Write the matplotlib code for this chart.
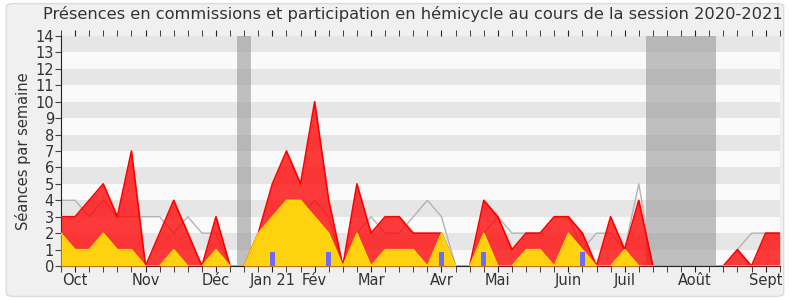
import matplotlib
matplotlib.use("Agg")
import matplotlib.pyplot as plt
from matplotlib.patches import FancyBboxPatch
import numpy as np

# weekly values, session 2020-2021 (52 weeks)
commission_total = [3, 3, 4, 5, 3, 7, 0, 2, 4, 2, 0, 3, 0, 0, 2, 5, 7, 5, 10, 4,
                    0, 5, 2, 3, 3, 2, 2, 2, 0, 0, 4, 3, 1, 2, 2, 3, 3, 2, 0, 3,
                    1, 4, 0, 0, 0, 0, 0, 0, 1, 0, 2, 2]
hemicycle = [2, 1, 1, 2, 1, 1, 0, 0, 1, 0, 0, 1, 0, 0, 2, 3, 4, 4, 3, 2,
             0, 2, 0, 1, 1, 1, 0, 2, 0, 0, 2, 0, 0, 1, 1, 0, 2, 1, 0, 0,
             1, 0, 0, 0, 0, 0, 0, 0, 0, 0, 0, 0]
median = [4, 4, 3, 4, 3, 3, 3, 3, 2, 3, 2, 2, 0, 0, 2, 2, 2, 3, 4, 3,
          0, 2, 3, 2, 2, 3, 4, 3, 0, 0, 2, 3, 2, 2, 2, 3, 3, 1, 2, 2,
          1, 5, 0, 0, 0, 0, 0, 0, 1, 2, 2, 2]
questions_weeks = [15, 19, 27, 30, 37]
questions_vals = [0.85, 0.85, 0.85, 0.85, 0.85]
vacation_bands = [(12.5, 13.5), (41.5, 46.5)]
month_weeks = [1, 6, 11, 15, 18, 22, 27, 31, 36, 40, 45, 50]
month_labels = ["Oct", "Nov", "Déc", "Jan 21", "Fév", "Mar", "Avr", "Mai",
                "Juin", "Juil", "Août", "Sept"]

weeks = np.arange(len(commission_total))

fig = plt.figure(figsize=(7.9, 3.0), dpi=100, facecolor="white")
fig.patches.append(FancyBboxPatch((0.008, 0.012), 0.984, 0.976,
                                  boxstyle="round,pad=0,rounding_size=0.01",
                                  transform=fig.transFigure, facecolor="#f0f0f0",
                                  edgecolor="#dcdcdc", linewidth=1, zorder=-10))
ax = fig.add_axes([0.0772, 0.1133, 0.9098, 0.7667])
ax.set_facecolor("#fafafa")

# horizontal stripes
for k in range(1, 14, 2):
    ax.axhspan(k, k + 1, color="#e6e6e6", lw=0, zorder=0)
for a, b in vacation_bands:
    ax.axvspan(a, b, color="#999999", alpha=0.6, lw=0, zorder=1)

ax.plot(weeks, median, color="#b4b4b4", lw=1, zorder=2)
ax.fill_between(weeks, commission_total, color="#ff0000", alpha=0.77, lw=0, zorder=3)
ax.plot(weeks, commission_total, color="#ff0000", lw=1.2, zorder=4)
ax.fill_between(weeks, hemicycle, color="#ffd20f", lw=0, zorder=5)
ax.plot(weeks, hemicycle, color="#ffe000", lw=1, zorder=6)
ax.bar(questions_weeks, questions_vals, width=0.35, color="#6b6bff", zorder=7)

ax.set_xlim(0, 51)
ax.set_ylim(0, 14)
ax.set_yticks(range(0, 15))
ax.tick_params(axis="y", labelsize=10.5, length=4, color="#444444", labelcolor="#333333", pad=1)
ax.set_xticks(month_weeks)
ax.set_xticklabels(month_labels)
ax.set_xticks(weeks, minor=True)
ax.tick_params(axis="x", which="both", length=4, color="#222222", labelsize=10.5,
               labelcolor="#333333", pad=1)
ax.tick_params(axis="x", which="both", top=True, labeltop=False)

for s in ("top", "right"):
    ax.spines[s].set_visible(False)
ax.spines["left"].set_color("#222222")
ax.spines["bottom"].set_color("#222222")

ax.set_ylabel("Séances par semaine", fontsize=10.5, color="#333333", labelpad=3)
fig.text(0.522, 0.955, "Présences en commissions et participation en hémicycle au cours de la session 2020-2021",
         ha="center", va="center", fontsize=11.7, color="#333333")

fig.savefig("out.png", dpi=100, facecolor="white")
